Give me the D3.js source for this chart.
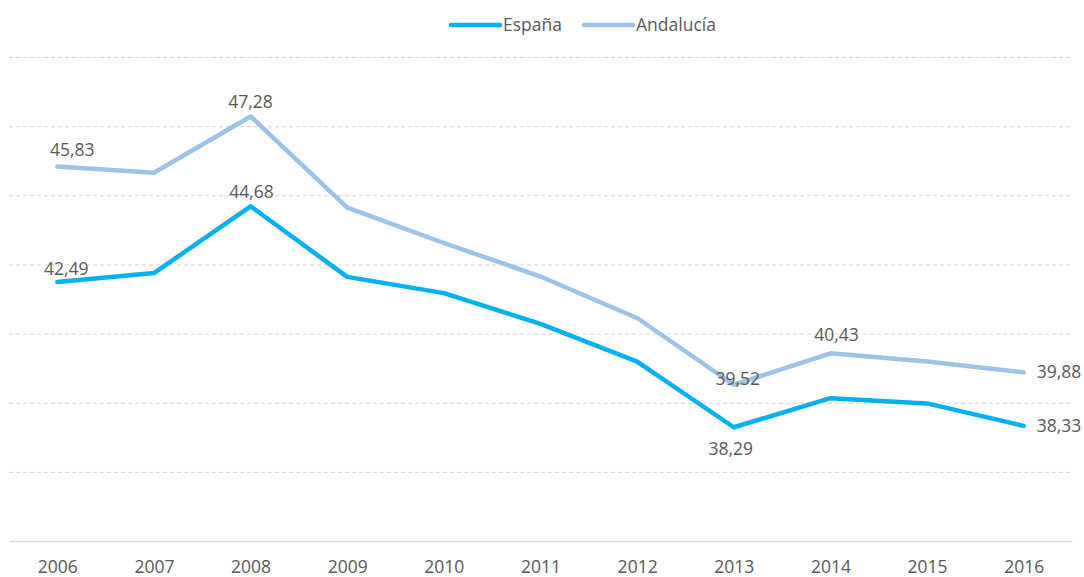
<!DOCTYPE html>
<html>
<head>
<meta charset="utf-8">
<script src="https://cdn.jsdelivr.net/npm/d3@7"></script>
<style>
  body { margin: 0; background: #fff; }
  svg text { font-family: "Open Sans", sans-serif; fill: #595959; }
  .grid line { stroke: #d4d4d4; stroke-dasharray: 4 3; }
  .grid path { display: none; }
  .x-axis path { stroke: #d9d9d9; stroke-width: 1.5; }
</style>
</head>
<body>
<div id="chart"></div>
<script>
const years = ['2006', '2007', '2008', '2009', '2010', '2011', '2012', '2013', '2014', '2015', '2016'];
const espana = [42.49, 42.75, 44.68, 42.64, 42.17, 41.28, 40.19, 38.29, 39.13, 38.98, 38.33];
const andalucia = [45.83, 45.65, 47.28, 44.64, 43.62, 42.65, 41.45, 39.52, 40.43, 40.19, 39.88];
const seriesNames = ['España', 'Andalucía'];
const yTicks = [35, 37, 39, 41, 43, 45, 47, 49];

// which points carry a value label, and where it sits
const labeled = [
  { s: 1, i: 0, place: 'above', dx: 15, dy: -11 },
  { s: 1, i: 2, place: 'above', dx: 0, dy: -8 },
  { s: 1, i: 7, place: 'above', dx: 4, dy: 0 },
  { s: 1, i: 8, place: 'above', dx: 6, dy: -12 },
  { s: 1, i: 10, place: 'right' },
  { s: 0, i: 0, place: 'above', dx: 9, dy: -7 },
  { s: 0, i: 2, place: 'above', dx: 1, dy: -8 },
  { s: 0, i: 7, place: 'below', dx: -3, dy: 28 },
  { s: 0, i: 10, place: 'right' }
];

const colors = ['#00b0f0', '#9dc3e6'];
const width = 1084, height = 577;
const margin = { top: 57, right: 12, bottom: 36, left: 9 };
const innerW = width - margin.left - margin.right;
const innerH = height - margin.top - margin.bottom;

const svg = d3.select('#chart').append('svg')
  .attr('width', width)
  .attr('height', height);

const chart = svg.append('g')
  .attr('transform', `translate(${margin.left},${margin.top})`);

const xScale = d3.scalePoint()
  .domain(years)
  .range([0, innerW])
  .padding(0.5);

const yScale = d3.scaleLinear()
  .domain([35, 49])
  .range([innerH, 0]);

// dashed gridlines
chart.append('g')
  .attr('class', 'grid')
  .call(d3.axisLeft(yScale).tickValues(yTicks.slice(1)).tickSize(-innerW).tickFormat(''))
  .call(g => g.selectAll('.tick line').attr('x1', 0));

// x axis
chart.append('g')
  .attr('class', 'x-axis')
  .attr('transform', `translate(0,${innerH})`)
  .call(d3.axisBottom(xScale).tickSize(0).tickPadding(20).tickSizeOuter(0))
  .call(g => g.selectAll('.tick text')
    .attr('font-size', 17.5)
    .style('font-family', '"Open Sans", sans-serif')
    .attr('fill', '#595959'));

// lines
const seriesData = [espana, andalucia];
const line = d3.line()
  .x((d, i) => xScale(years[i]))
  .y(d => yScale(d));

chart.selectAll('.series')
  .data(seriesData)
  .join('path')
    .attr('class', 'series')
    .attr('fill', 'none')
    .attr('stroke', (d, i) => colors[i])
    .attr('stroke-width', 4.5)
    .attr('stroke-linejoin', 'round')
    .attr('stroke-linecap', 'round')
    .attr('d', line);

// value labels
const fmt = v => v.toFixed(2).replace('.', ',');
chart.selectAll('.value-label')
  .data(labeled)
  .join('text')
    .attr('class', 'value-label')
    .attr('font-size', 17.5)
    .attr('text-anchor', d => d.place === 'right' ? 'start' : 'middle')
    .attr('x', d => xScale(years[d.i]) + (d.place === 'right' ? 13 : d.dx))
    .attr('y', d => yScale(seriesData[d.s][d.i]) + (d.place === 'right' ? 6 : d.dy))
    .text(d => fmt(seriesData[d.s][d.i]));

// legend
const legendX = [451, 584];
const legend = svg.selectAll('.legend')
  .data(seriesNames)
  .join('g')
    .attr('class', 'legend')
    .attr('transform', (d, i) => `translate(${legendX[i]},25)`);

legend.append('line')
  .attr('x1', 0).attr('x2', 49)
  .attr('stroke', (d, i) => colors[i])
  .attr('stroke-width', 4.5)
  .attr('stroke-linecap', 'round');

legend.append('text')
  .attr('x', 52)
  .attr('y', 6)
  .attr('font-size', 17.5)
  .text(d => d);
</script>
</body>
</html>
